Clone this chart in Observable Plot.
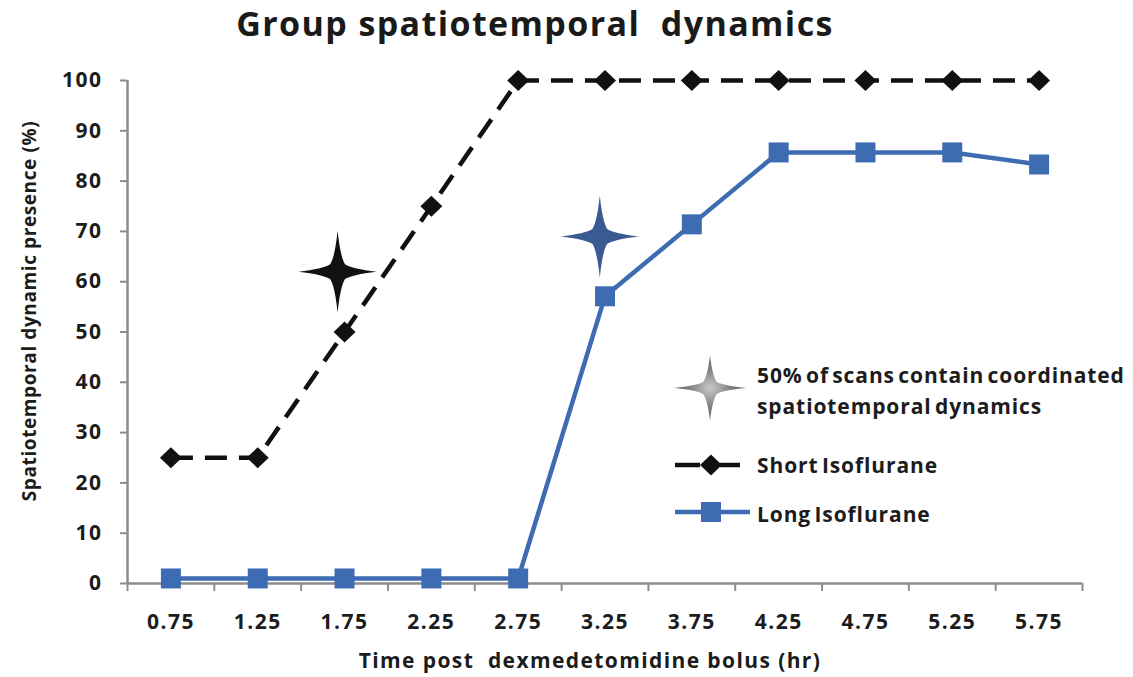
<!DOCTYPE html>
<html><head><meta charset="utf-8">
<script src="https://cdn.jsdelivr.net/npm/d3@7"></script>
<script src="https://cdn.jsdelivr.net/npm/@observablehq/plot@0.6"></script>
<style>
body{margin:0;background:#fff;font-family:"Open Sans",sans-serif;}
#wrap{position:relative;width:1133px;height:677px;overflow:hidden;}
#title{position:absolute;left:0;top:0px;width:1070px;text-align:center;font-weight:700;font-size:34px;letter-spacing:1.4px;white-space:pre;color:#1a1a1a;}
#chart{position:absolute;left:0;top:0;}
#legend{position:absolute;left:660px;top:340px;}
#chart svg text{font-weight:700;}
#chart svg g[aria-label$="tick label"] text{letter-spacing:1.5px;}
.lblx{letter-spacing:1.4px;}
.lbly{letter-spacing:0.6px;}
#legend text{letter-spacing:0.9px;word-spacing:-3px;}
</style></head><body>
<div id="wrap"><div id="chart"></div><div id="title">Group spatiotemporal  dynamics</div><svg id="legend" width="470" height="200"></svg></div>
<script>
// ---- data ----
const times = [0.75, 1.25, 1.75, 2.25, 2.75, 3.25, 3.75, 4.25, 4.75, 5.25, 5.75];
const tickLabels = ["0.75","1.25","1.75","2.25","2.75","3.25","3.75","4.25","4.75","5.25","5.75"];
const shortIso = [25, 25, 50, 75, 100, 100, 100, 100, 100, 100, 100];
const longIso = [1, 1, 1, 1, 1, 57.1, 71.4, 85.7, 85.7, 85.7, 83.3];
const starX = [1.71, 3.22];
const starY = [62, 69];
const starGroup = ["Short Isoflurane", "Long Isoflurane"];
const yTicks = [0, 10, 20, 30, 40, 50, 60, 70, 80, 90, 100];
const bandEdges = [0.5, 1.0, 1.5, 2.0, 2.5, 3.0, 3.5, 4.0, 4.5, 5.0, 5.5, 6.0];
const seriesNames = ["Short Isoflurane", "Long Isoflurane"];
const starNote = ["50% of scans contain coordinated", "spatiotemporal dynamics"];
const xLabel = "Time post  dexmedetomidine bolus (hr)";
const yLabel = "Spatiotemporal dynamic presence (%)";

const table = times.map((t, i) => ({t, s: shortIso[i], l: longIso[i]}));
const stars = starX.map((x, i) => ({x, y: starY[i], g: starGroup[i]}));

const blue = "#3d6cb3", black = "#111111", axisGray = "#8c8c8c", textCol = "#1c1c1c";

// custom symbols
const star4 = {draw(ctx, size) {
  const R = Math.sqrt(size / Math.PI), H = R * 1.05;
  const i = 0.19 * R, c = 0.07 * R, m = 0.38 * R;
  ctx.moveTo(0, -H);
  ctx.quadraticCurveTo(c, -m, i, -i);
  ctx.quadraticCurveTo(m, -c, R, 0);
  ctx.quadraticCurveTo(m, c, i, i);
  ctx.quadraticCurveTo(c, m, 0, H);
  ctx.quadraticCurveTo(-c, m, -i, i);
  ctx.quadraticCurveTo(-m, c, -R, 0);
  ctx.quadraticCurveTo(-m, -c, -i, -i);
  ctx.quadraticCurveTo(-c, -m, 0, -H);
  ctx.closePath();
}};
const diamond = {draw(ctx, size) {
  const R = Math.sqrt(size / Math.PI);
  ctx.moveTo(0, -R * 0.95); ctx.lineTo(R, 0); ctx.lineTo(0, R * 0.95); ctx.lineTo(-R, 0); ctx.closePath();
}};
const square = {draw(ctx, size) {
  const R = Math.sqrt(size / Math.PI);
  ctx.rect(-R, -R, 2 * R, 2 * R);
}};

const plot = Plot.plot({
  width: 1133,
  height: 677,
  marginLeft: 127,
  marginRight: 51,
  marginTop: 80,
  marginBottom: 94,
  style: {fontFamily: "'Open Sans', sans-serif", color: textCol, background: "#fff"},
  x: {domain: [0.5, 6.0], axis: null},
  y: {domain: [0, 100], axis: null},
  marks: [
    Plot.axisY({ticks: yTicks, tickSize: 7, tickPadding: 18, stroke: axisGray, strokeWidth: 2, fill: textCol, fontSize: 21, fontWeight: "bold", label: null}),
    Plot.axisX({ticks: bandEdges, tickSize: 8, tickFormat: () => "", stroke: axisGray, strokeWidth: 2, label: null}),
    Plot.axisX({ticks: times, tickSize: 0, tickPadding: 31, tickFormat: d => tickLabels[times.indexOf(d)], fill: textCol, fontSize: 21, fontWeight: "bold", label: null}),
    Plot.ruleY([0], {stroke: axisGray, strokeWidth: 2.5}),
    Plot.ruleX([0.5], {stroke: axisGray, strokeWidth: 2.5}),
    Plot.text([yLabel], {text: d => d, frameAnchor: "left", textAnchor: "middle", rotate: -90, dx: -98, dy: -21, fontSize: 19, fontWeight: "bold", fill: textCol, className: "lbly"}),
    Plot.text([xLabel], {text: d => d, frameAnchor: "bottom", textAnchor: "middle", dy: 84, dx: -15, fontSize: 21, fontWeight: "bold", fill: textCol, className: "lblx"}),
    Plot.line(table, {x: "t", y: "l", stroke: blue, strokeWidth: 4.5, strokeLinejoin: "round"}),
    Plot.dot(table, {x: "t", y: "l", symbol: square, r: 10, fill: blue, stroke: "none"}),
    Plot.line(table, {x: "t", y: "s", stroke: black, strokeWidth: 4.5, strokeDasharray: "22,12", strokeLinecap: "butt", strokeLinejoin: "round"}),
    Plot.dot(table, {x: "t", y: "s", symbol: diamond, r: 11, fill: black, stroke: "none"}),
    Plot.dot(stars, {x: "x", y: "y", symbol: star4, r: 39, fill: d => d.g === "Short Isoflurane" ? black : "#3b5a92", stroke: "none"})
  ]
});
document.getElementById("chart").appendChild(plot);

// legend
const lg = d3.select("#legend");
const defs = lg.append("defs");
const rg = defs.append("radialGradient").attr("id", "gstar");
rg.append("stop").attr("offset", "0%").attr("stop-color", "#c8c8c8");
rg.append("stop").attr("offset", "60%").attr("stop-color", "#7d7d7d");
rg.append("stop").attr("offset", "100%").attr("stop-color", "#6a6a6a");
const starPath = d3.path(); star4.draw(starPath, Math.PI * 36 * 36);
lg.append("path").attr("d", starPath.toString()).attr("transform", "translate(50,48) scale(1,0.86)").attr("fill", "url(#gstar)");
const tf = {"font-family": "'Open Sans', sans-serif", "font-weight": 700, "font-size": 21, fill: textCol};
starNote.forEach((t, i) => {
  const el = lg.append("text").attr("x", 97).attr("y", 43 + i * 31).text(t);
  Object.entries(tf).forEach(([k, v]) => el.attr(k, v));
});
// short
lg.append("line").attr("x1", 15).attr("x2", 40).attr("y1", 125).attr("y2", 125).attr("stroke", black).attr("stroke-width", 4.5);
lg.append("line").attr("x1", 60).attr("x2", 80).attr("y1", 125).attr("y2", 125).attr("stroke", black).attr("stroke-width", 4.5);
const dp = d3.path(); diamond.draw(dp, Math.PI * 11 * 11);
lg.append("path").attr("d", dp.toString()).attr("transform", "translate(51,125)").attr("fill", black);
// long
lg.append("line").attr("x1", 15).attr("x2", 90).attr("y1", 172).attr("y2", 172).attr("stroke", blue).attr("stroke-width", 4.5);
const sp = d3.path(); square.draw(sp, Math.PI * 10 * 10);
lg.append("path").attr("d", sp.toString()).attr("transform", "translate(51,172)").attr("fill", blue);
seriesNames.forEach((t, i) => {
  const el = lg.append("text").attr("x", 97).attr("y", 133 + i * 49).text(t);
  Object.entries(tf).forEach(([k, v]) => el.attr(k, v));
});
</script>
</body></html>
